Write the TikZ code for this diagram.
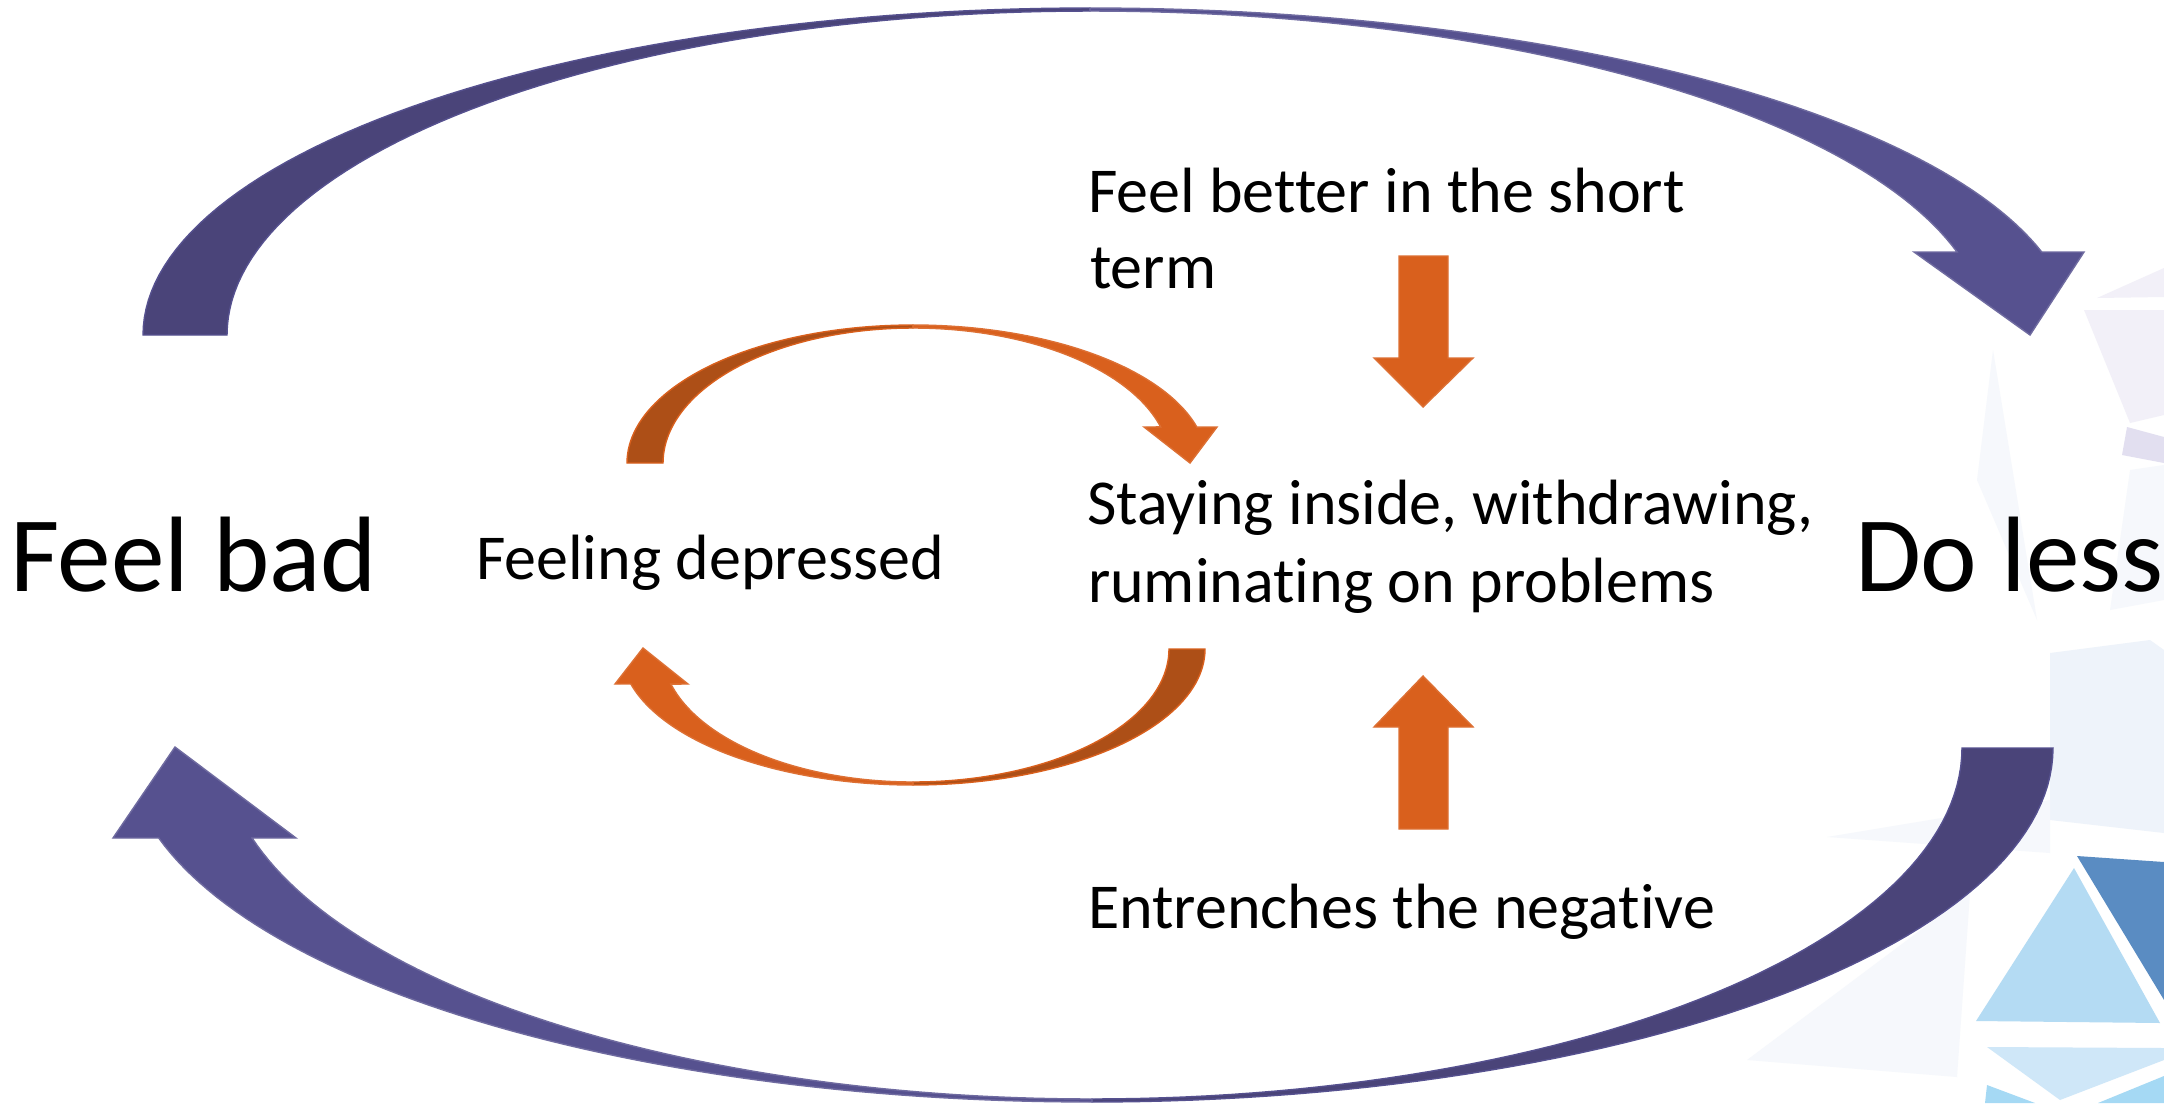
\documentclass[tikz,border=0pt]{standalone}
\usepackage{fontspec}
\setmainfont[Ligatures=NoCommon]{Carlito}
\definecolor{pL}{HTML}{56518F}
\definecolor{pD}{HTML}{4A4479}
\definecolor{oL}{HTML}{D9601D}
\definecolor{oD}{HTML}{AD4F17}
\definecolor{bgDark}{HTML}{5A8CC2}
\definecolor{bgLight}{HTML}{B4DBF3}
\definecolor{bgLighter}{HTML}{CFE7F8}
\definecolor{bgCyan}{HTML}{A5D9F4}
\definecolor{bgPale}{HTML}{EEF3FA}
\definecolor{bgFaint}{HTML}{F6F8FC}
\definecolor{bgLav}{HTML}{F2F0F8}
\definecolor{bgLavM}{HTML}{E2DFF0}
\newcommand{\smallfs}{\fontsize{18.2}{22}\selectfont}
\newcommand{\bigfs}{\fontsize{30.5}{36}\selectfont}
\tikzset{
  txt/.style={inner sep=0pt, outer sep=0pt, anchor=base west, font=\smallfs, text=black},
  bigtxt/.style={inner sep=0pt, outer sep=0pt, anchor=base west, font=\bigfs, text=black},
  purpleL/.style={fill=pL, draw=pL!85!white, line width=0.4pt},
  purpleD/.style={fill=pD, draw=pL, line width=0.4pt},
  orangeL/.style={fill=oL, draw=oL!90!white, line width=0.4pt},
  orangeD/.style={fill=oD, draw=oL, line width=0.4pt},
}
\begin{document}
\begin{tikzpicture}[x=0.01cm, y=-0.01cm]
\useasboundingbox (0,0) rectangle (2164,1103);
\clip (0,0) rectangle (2164,1103);
\fill[white] (0,0) rectangle (2164,1103);

% background low-poly decoration
\fill[bgLav] (2097,298) -- (2164,268) -- (2164,297) -- cycle;
\fill[bgLav] (2084,310) -- (2164,310) -- (2164,415) -- (2130,423) -- cycle;
\fill[bgLavM] (2127,427) -- (2164,437) -- (2164,463) -- (2122,455) -- cycle;
\fill[bgFaint] (1993,350) -- (2037,620) -- (1977,480) -- cycle;
\fill[bgFaint] (2130,470) -- (2164,465) -- (2164,600) -- (2110,610) -- cycle;
\fill[bgPale] (2050,653) -- (2150,640) -- (2164,650) -- (2164,833) -- (2050,820) -- cycle;
\fill[bgFaint] (1827,837) -- (2050,800) -- (2050,853) -- cycle;
\fill[bgFaint] (1747,1060) -- (1970,893) -- (1957,1077) -- cycle;
\fill[bgDark] (2077,856) -- (2164,862) -- (2164,1000) -- cycle;
\fill[bgLight] (2074,868) -- (1976,1021) -- (2160,1023) -- cycle;
\fill[bgLighter] (1987,1047) -- (2164,1048) -- (2164,1060) -- (2060,1100) -- cycle;
\fill[bgCyan] (1987,1085) -- (2035,1103) -- (1985,1103) -- cycle;
\fill[bgCyan] (2098,1103) -- (2164,1076) -- (2164,1103) -- cycle;

% top purple curved arrow
\path[purpleD] plot[domain=90:180, samples=60] ({1090+947*cos(\x)},{335-327*sin(\x)})
  -- plot[domain=180:90, samples=60] ({1090+863*cos(\x)},{335-324*sin(\x)}) -- cycle;
\path[purpleL] plot[domain=90:14.7, samples=60] ({1090+984*cos(\x)},{335-327*sin(\x)})
  -- (2084,252) -- (2030,335) -- (1914,252)
  -- plot[domain=14.84:90, samples=60] ({1090+897*cos(\x)},{335-324*sin(\x)}) -- cycle;

% bottom purple curved arrow
\path[purpleD] plot[domain=0:90, samples=60] ({1092+961*cos(\x)},{748+354*sin(\x)})
  -- plot[domain=90:0, samples=60] ({1092+870*cos(\x)},{748+351*sin(\x)}) -- cycle;
\path[purpleL] plot[domain=90:165.27, samples=60] ({1092+965*cos(\x)},{748+354*sin(\x)})
  -- (113,838) -- (175,747) -- (296,838)
  -- plot[domain=165.14:90, samples=60] ({1092+869*cos(\x)},{748+351*sin(\x)}) -- cycle;

% top orange curved arrow
\path[orangeD] plot[domain=90:180, samples=50] ({913+286*cos(\x)},{463-138*sin(\x)})
  -- plot[domain=180:90, samples=50] ({913+250*cos(\x)},{463-135*sin(\x)}) -- cycle;
\path[orangeL] plot[domain=90:15.1, samples=50] ({913+294*cos(\x)},{463-138*sin(\x)})
  -- (1217,427) -- (1190,463) -- (1144,427)
  -- plot[domain=15.5:90, samples=50] ({913+257*cos(\x)},{463-135*sin(\x)}) -- cycle;

% bottom orange curved arrow
\path[orangeD] plot[domain=0:90, samples=50] ({913+292*cos(\x)},{649+136*sin(\x)})
  -- plot[domain=90:0, samples=50] ({913+256*cos(\x)},{649+133*sin(\x)}) -- cycle;
\path[orangeL] plot[domain=90:165.1, samples=50] ({913+292*cos(\x)},{649+136*sin(\x)})
  -- (615,684) -- (643,648) -- (688,684)
  -- plot[domain=164.7:90, samples=50] ({913+251*cos(\x)},{649+133*sin(\x)}) -- cycle;

% straight orange arrows
\path[orangeL] (1399,256) -- (1448,256) -- (1448,358) -- (1473,358) -- (1423,407)
  -- (1374,358) -- (1399,358) -- cycle;
\path[orangeL] (1399,829) -- (1448,829) -- (1448,727) -- (1473,727) -- (1423,676)
  -- (1374,727) -- (1399,727) -- cycle;

% texts
\node[bigtxt] (fb) at (10,591) {Feel bad};
\node[bigtxt] (dl) at (1855,591) {Do less};
\node[txt] (fd) at (476,579) {Feeling depressed};
\node[txt] (st1) at (1087,524) {Staying inside, withdrawing,};
\node[txt] (st2) at (1088,602) {ruminating on problems};
\node[txt] (fbs1) at (1088,212) {Feel better in the short};
\node[txt] (fbs2) at (1090,288) {term};
\node[txt] (en) at (1088,928) {Entrenches the negative};
\end{tikzpicture}
\end{document}
